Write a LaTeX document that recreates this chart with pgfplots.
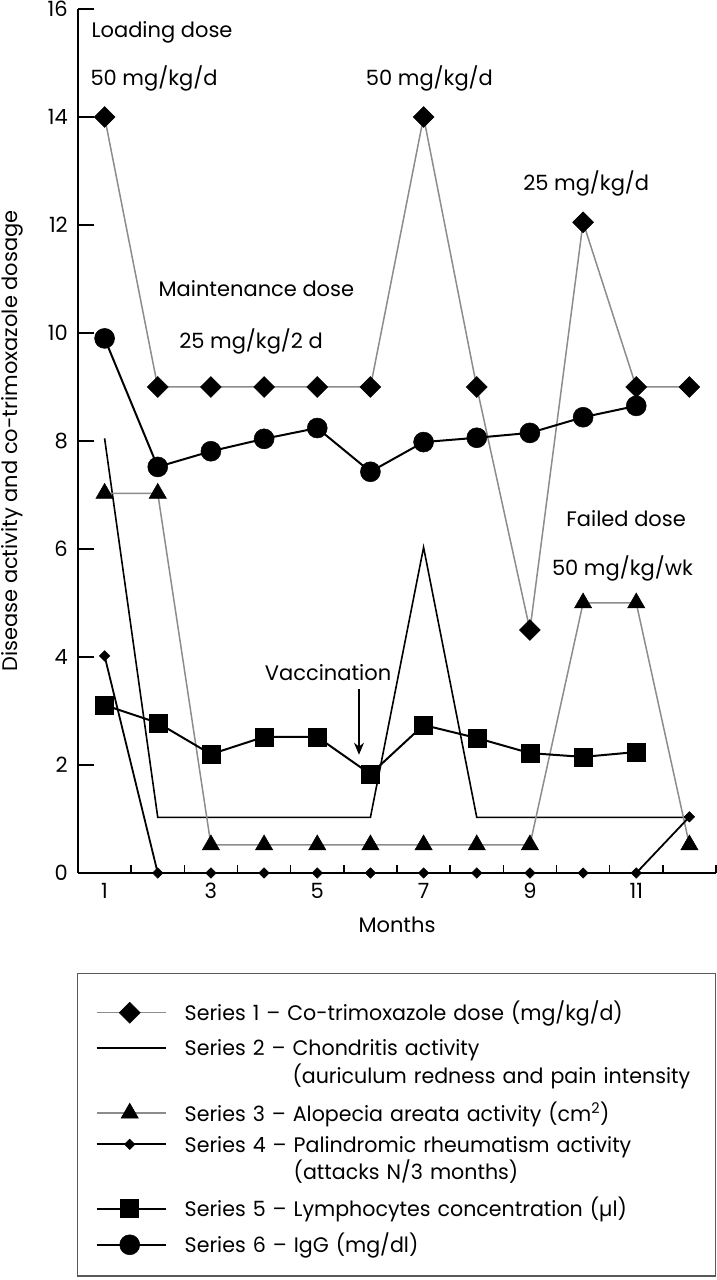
\documentclass[border=0pt]{standalone}
\usepackage{pgfplots}
\pgfplotsset{compat=1.18}
\usepackage{fontspec}
\setmainfont{Poppins}
\newfontfamily\legfont{Poppins}[FakeStretch=0.98]
\usetikzlibrary{arrows.meta}
\definecolor{lgray}{gray}{0.55}
\definecolor{fgray}{gray}{0.35}
\newcommand{\hs}[1]{\rule{0pt}{#1bp}}
\begin{document}
\fontsize{21bp}{27bp}\selectfont
\begin{tikzpicture}
\begin{axis}[
  at={(78bp,407bp)}, anchor=south west,
  scale only axis, width=638bp, height=864bp,
  xmin=0.5, xmax=12.5, ymin=0, ymax=16,
  clip=false,
  axis x line=bottom, axis y line=left,
  axis line style={-, line width=1.5bp},
  xtick={1,3,5,7,9,11},
  minor xtick={1.5,2.5,...,12.5},
  ytick={0,2,...,16},
  tick align=inside,
  major tick length=16bp, minor tick length=8bp,
  major x tick style={draw=none},
  tick style={line width=1.5bp, black},
  /pgf/number format/assume math mode=true,
  tick label style={font=\fontsize{21bp}{27bp}\selectfont},
  xticklabel style={yshift=-3bp},
  yticklabel style={xshift=-3bp},
  xlabel={Months}, ylabel={Disease activity and co-trimoxazole dosage},
  every axis x label/.style={at={(axis description cs:0.5,-0.0683)}, anchor=base},
  every axis y label/.style={at={(axis description cs:-0.1034,0.5)}, rotate=90, anchor=center},
  legend style={at={(axis description cs:-0.0016,-0.1157)}, anchor=north west, draw=fgray, line width=1.5bp, inner xsep=18bp, inner ysep=20bp, row sep=12bp, column sep=18bp, cells={anchor=base west}, nodes={inner sep=0pt, text width=513bp, font=\legfont\fontsize{21bp}{27bp}\selectfont}},
  legend image code/.code={\draw[mark repeat=2,mark phase=2,#1] plot coordinates {(0bp,8bp) (33bp,8bp) (69bp,8bp)};},
]
% Series 1
\addplot[color=lgray, line width=1.5bp, mark=square*, mark size=7.4bp, mark options={rotate=45, fill=black, draw=black, line width=0.5bp}]
 coordinates {(1,14)(2,9)(3,9)(4,9)(5,9)(6,9)(7,14)(8,9)(9,4.5)(10,12.05)(11,9)(12,9)};
\addlegendentry{\hs{27}Series 1 – Co-trimoxazole dose (mg/kg/d)}
% Series 2
\addplot[color=black, line width=1.6bp, mark=none]
 coordinates {(1,8.05)(2,1.03)(3,1.03)(4,1.03)(5,1.03)(6,1.03)(7,6.03)(8,1.03)(9,1.03)(10,1.03)(11,1.03)(12,1.03)};
\addlegendentry{\hs{20}Series 2 – Chondritis activity}
\addlegendimage{empty legend}
\addlegendentry{\hs{12}\smash{\hphantom{Series 2 – }(auriculum redness and pain intensity}}
% Series 3
\addplot[color=lgray, line width=1.5bp, mark=triangle*, mark size=10bp, mark options={fill=black, draw=black, line width=0.5bp}]
 coordinates {(1,7.03)(2,7.03)(3,0.52)(4,0.52)(5,0.52)(6,0.52)(7,0.52)(8,0.52)(9,0.52)(10,5)(11,5)(12,0.52)};
\addlegendentry{\hs{23}Series 3 – Alopecia areata activity (cm\textsuperscript{2})}
% Series 4
\addplot[color=black, line width=1.8bp, mark=square*, mark size=3.7bp, mark options={rotate=45, fill=black, draw=black, line width=0.5bp}]
 coordinates {(1,4.02)(2,0)(3,0)(4,0)(5,0)(6,0)(7,0)(8,0)(9,0)(10,0)(11,0)(12,1.04)};
\addlegendentry{\hs{16}Series 4 – Palindromic rheumatism activity}
\addlegendimage{empty legend}
\addlegendentry{\hs{12}\smash{\hphantom{Series 4 – }(attacks N/3 months)}}
% Series 5
\addplot[color=black, line width=2bp, mark=square*, mark size=9bp, mark options={fill=black, draw=black, line width=0.5bp}]
 coordinates {(1,3.11)(2,2.78)(3,2.2)(4,2.52)(5,2.52)(6,1.83)(7,2.74)(8,2.5)(9,2.22)(10,2.15)(11,2.24)};
\addlegendentry{\hs{22}Series 5 – Lymphocytes concentration (µl)}
% Series 6
\addplot[color=black, line width=2bp, mark=*, mark size=10bp, mark options={fill=black, draw=black, line width=0.5bp}]
 coordinates {(1,9.9)(2,7.52)(3,7.81)(4,8.04)(5,8.24)(6,7.43)(7,7.98)(8,8.06)(9,8.15)(10,8.44)(11,8.65)};
\addlegendentry{\hs{21}Series 6 – IgG (mg/dl)}

\node[anchor=base west] at (axis cs:0.62,15.48) {Loading dose};
\node[anchor=base west] at (axis cs:0.60,14.59) {50 mg/kg/d};
\node[anchor=base west] at (axis cs:5.78,14.59) {50 mg/kg/d};
\node[anchor=base west] at (axis cs:8.74,12.63) {25 mg/kg/d};
\node[anchor=base west] at (axis cs:1.88,10.67) {Maintenance dose};
\node[anchor=base west] at (axis cs:2.27,9.72) {25 mg/kg/2 d};
\node[anchor=base west] at (axis cs:9.55,6.41) {Failed dose};
\node[anchor=base west] at (axis cs:9.28,5.50) {50 mg/kg/wk};
\node[anchor=base west] at (axis cs:3.88,3.57) {Vaccination};
\draw[line width=1.3bp, -{Stealth[length=12bp,width=10bp]}] (axis cs:5.785,3.41) -- (axis cs:5.785,2.19);
\end{axis}
\pgfresetboundingbox
\useasboundingbox (0,0) rectangle (717bp,1280bp);
\end{tikzpicture}
\end{document}
